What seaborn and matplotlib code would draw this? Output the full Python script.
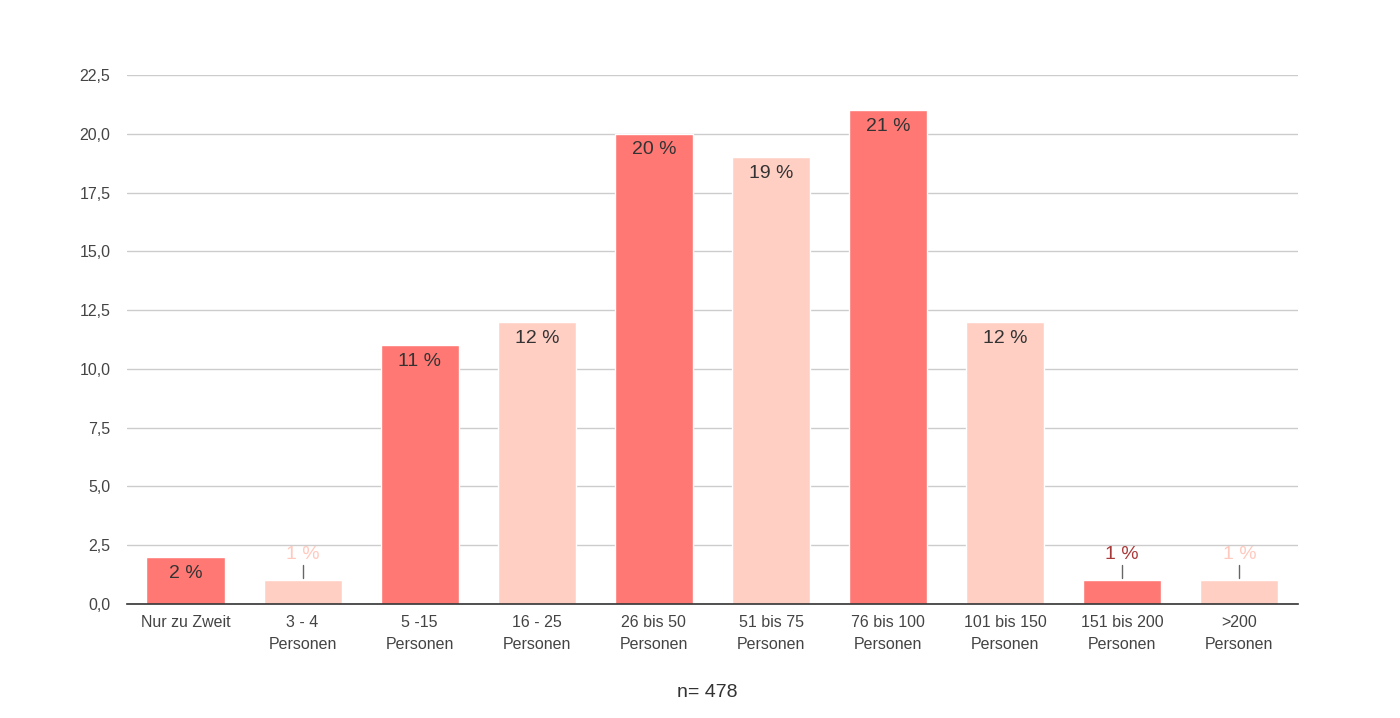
import matplotlib
matplotlib.use("Agg")
import matplotlib.pyplot as plt
import seaborn as sns
import pandas as pd

categories = ["Nur zu Zweit", "3 - 4\nPersonen", "5 -15\nPersonen", "16 - 25\nPersonen",
              "26 bis 50\nPersonen", "51 bis 75\nPersonen", "76 bis 100\nPersonen",
              "101 bis 150\nPersonen", "151 bis 200\nPersonen", ">200\nPersonen"]
values = [2, 1, 11, 12, 20, 19, 21, 12, 1, 1]
labels = ["2 %", "1 %", "11 %", "12 %", "20 %", "19 %", "21 %", "12 %", "1 %", "1 %"]
yticks = [0, 2.5, 5, 7.5, 10, 12.5, 15, 17.5, 20, 22.5]
ytick_labels = ["0,0", "2,5", "5,0", "7,5", "10,0", "12,5", "15,0", "17,5", "20,0", "22,5"]
note = "n= 478"

dark = "#FF7874"
light = "#FFCFC4"
colors = [dark, light] * 5
outside_colors = {1: "#FFC9BE", 8: "#A93A3A", 9: "#FFC9BE"}

sns.set_theme(style="white")
plt.rcParams['font.family'] = ['Liberation Sans', 'DejaVu Sans']

df = pd.DataFrame({"cat": categories, "val": values})
fig = plt.figure(figsize=(14, 7.18), dpi=100)
ax = fig.add_axes([0.0907, 0.1588, 0.8364, 0.7367])
sns.barplot(data=df, x="cat", y="val", hue="cat", palette=colors, legend=False,
            width=0.667, ax=ax, saturation=1)

ax.set_ylim(0, 22.5)
ax.set_xlim(-0.5, 9.5)
ax.set_yticks(yticks)
ax.set_yticklabels(ytick_labels, fontsize=11.5, color="#444444")
ax.tick_params(axis="x", labelsize=11.5, labelcolor="#444444", length=0, pad=8)
ax.tick_params(axis="y", length=0, pad=12)
for lbl in ax.get_xticklabels():
    lbl.set_linespacing(1.55)
ax.set_xlabel("")
ax.set_ylabel("")
ax.yaxis.grid(True, color="#cccccc", linewidth=1)
ax.set_axisbelow(True)
for s in ["top", "right", "left"]:
    ax.spines[s].set_visible(False)
ax.spines["bottom"].set_color("#333333")
ax.spines["bottom"].set_linewidth(1.2)

for i, (v, t) in enumerate(zip(values, labels)):
    if i in outside_colors:
        ax.plot([i, i], [v + 0.1, v + 0.65], color="#666666", linewidth=1)
        ax.text(i, v + 0.75, t, ha="center", va="bottom", fontsize=14,
                color=outside_colors[i])
    else:
        ax.annotate(t, (i, v), xytext=(0, -5.5), textcoords="offset points",
                    ha="center", va="top", fontsize=14, color="#333333")

fig.text(0.505, 0.036, note, ha="center", va="center", fontsize=14, color="#333333")
fig.savefig("out.png", dpi=100)
